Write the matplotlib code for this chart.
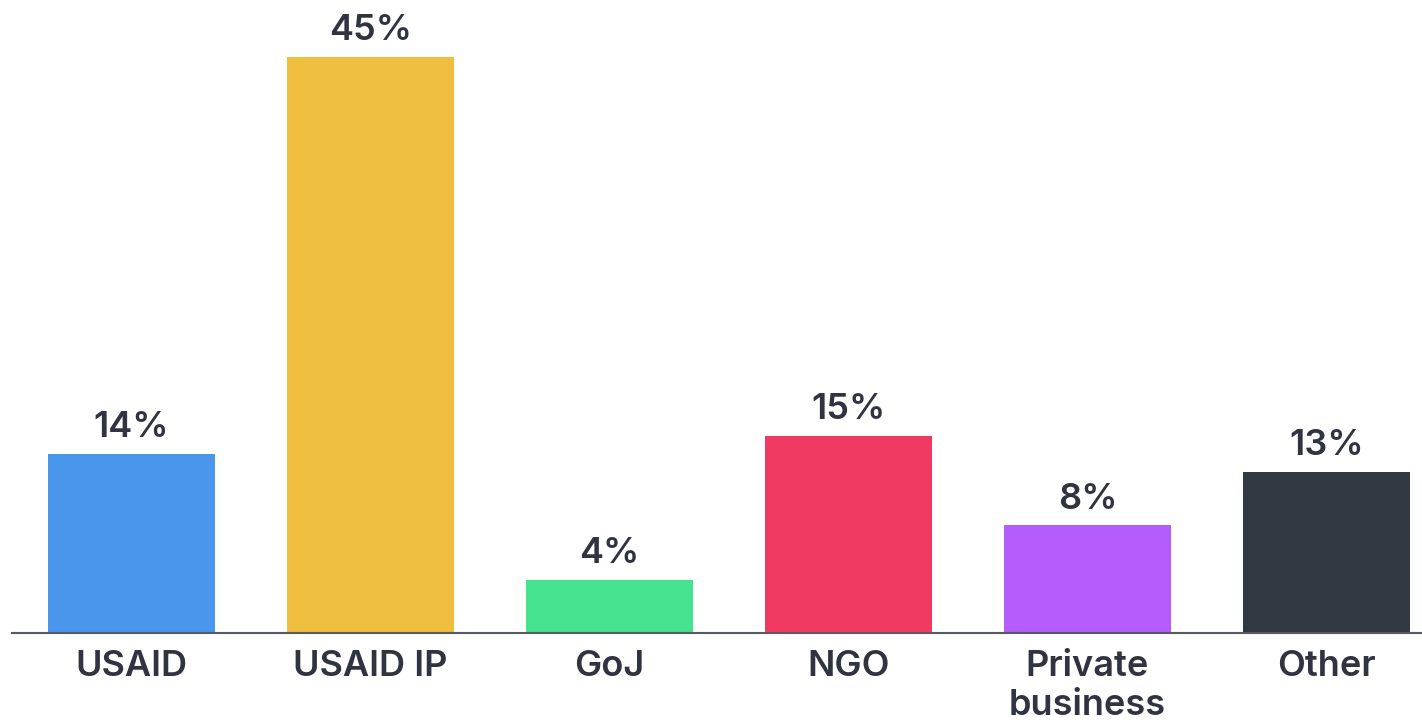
import matplotlib
matplotlib.use("Agg")
import matplotlib.pyplot as plt

categories = ["USAID", "USAID IP", "GoJ", "NGO", "Private\nbusiness", "Other"]
values = [14.0, 45.0, 4.15, 15.4, 8.4, 12.6]
colors = ["#4A96EC", "#F0BE3E", "#45E28F", "#F13A62", "#B55CFC", "#323841"]

plt.rcParams['font.family'] = ['Inter', 'DejaVu Sans']
text_color = "#2F3440"

fig = plt.figure(figsize=(14.22, 7.22), dpi=100)
ax = fig.add_axes([12/1422, 89/722, 1410/1422, 633/722])
x = list(range(len(categories)))
bars = ax.bar(x, values, width=0.7, color=colors)
ax.set_xlim(-0.5, 5.4)
ax.set_ylim(0, 633/12.8)

for xi, v in zip(x, values):
    ax.annotate(f"{round(v)}%", (xi, v), xytext=(0, 7), textcoords="offset points",
                ha="center", va="bottom", fontsize=26, fontweight="semibold", color=text_color)

ax.set_xticks(x)
ax.set_xticklabels(categories, fontsize=26, fontweight="semibold", color=text_color, linespacing=1.25)
ax.tick_params(axis="x", length=0, pad=12)
ax.set_yticks([])
for s in ["top", "right", "left"]:
    ax.spines[s].set_visible(False)
ax.spines["bottom"].set_color("#555a60")
ax.spines["bottom"].set_linewidth(1.5)

fig.savefig("out.png", dpi=100)
